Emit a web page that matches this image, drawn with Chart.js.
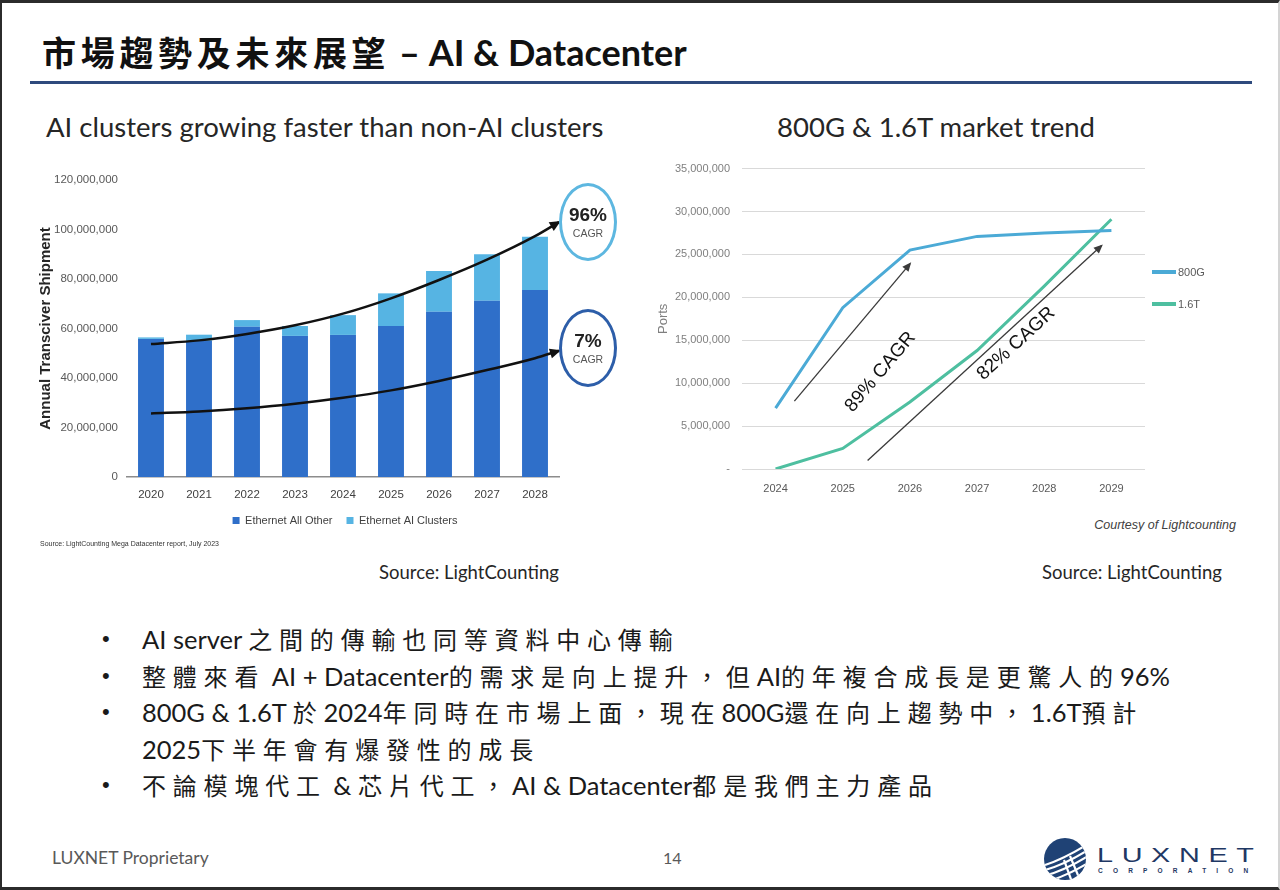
<!DOCTYPE html>
<html>
<head>
<meta charset="utf-8">
<script src="https://cdn.jsdelivr.net/npm/chart.js@4.4.1/dist/chart.umd.min.js"></script>
<style>
  html, body { margin: 0; padding: 0; background: #fff; }
  #slide { position: relative; width: 1280px; height: 890px; overflow: hidden; background: #fff;
           font-family: Lato, "Noto Sans CJK TC", sans-serif; color: #1a1a1a; }
  #frame { position: absolute; left: 0; top: 0; width: 1280px; height: 890px; box-sizing: border-box; pointer-events: none;
           border-top: 3px solid #2b2b2b; border-left: 2px solid #2b2b2b; border-bottom: 3px solid #2b2b2b; border-right: 2px solid #d4d4d4; }
  .abs { position: absolute; white-space: nowrap; }
  .narrow { font-family: "Liberation Sans", Arial, sans-serif; }
  #title { left: 42px; top: 27px; line-height: 50px; font-weight: bold; color: #111; }
  #title .cjk { font-size: 34px; letter-spacing: 4.7px; font-family: "Noto Sans CJK TC", sans-serif; }
  #title .lat { font-size: 36px; }
  #rule { left: 30px; top: 81px; width: 1222px; height: 3px; background: #2e4a7d; }
  .subtitle { font-size: 27.5px; line-height: 34px; color: #262626; }
  .source { font-size: 18.5px; line-height: 24px; color: #262626; text-align: center; }
  .ellipse { box-sizing: border-box; width: 58px; height: 78px; border: 3px solid; border-radius: 50%; text-align: center; }
  .ellipse b { display: block; font-family: "Liberation Sans", Arial, sans-serif; font-size: 19px; color: #222; margin-top: 18px; line-height: 22px; }
  .ellipse span { display: block; font-family: "Liberation Sans", Arial, sans-serif; font-size: 10.5px; color: #555; line-height: 14px; }
  #bullets { left: 100px; top: 621px; }
  #bullets div { position: relative; height: 36.6px; line-height: 36.6px; padding-left: 42px; font-size: 25.5px; color: #1a1a1a; }
  #bullets div.b::before { content: "•"; position: absolute; left: 2px; top: 0; font-family: "Liberation Sans", sans-serif; font-size: 22px; }
  #bullets .cjk { font-family: "Noto Sans CJK TC", sans-serif; letter-spacing: 6.8px; font-size: 24px; }
  .footer { font-size: 17.5px; line-height: 22px; color: #595959; }
  #legend2 div { position: absolute; white-space: nowrap; font-size: 11px; line-height: 14px; color: #595959; }
  #legend2 i { display: inline-block; width: 24px; height: 4px; vertical-align: middle; margin-right: 2px; margin-top: -2px; }
</style>
</head>
<body>
<div id="slide">
  <div id="title" class="abs"><span class="cjk">市場趨勢及未來展望</span><span class="lat"> – AI &amp; Datacenter</span></div>
  <div id="rule" class="abs"></div>

  <div class="abs subtitle" style="left:46px; top:110px;">AI clusters growing faster than non-AI clusters</div>
  <div class="abs subtitle" style="left:736px; top:110px; width:400px; text-align:center;">800G &amp; 1.6T market trend</div>

  <canvas id="clusters" class="abs" width="630" height="400" style="left:30px; top:150px;"></canvas>
  <canvas id="market" class="abs" width="600" height="350" style="left:655px; top:150px;"></canvas>

  <div class="abs ellipse" style="left:559px; top:183px; border-color:#5db7e0;"><b>96%</b><span>CAGR</span></div>
  <div class="abs ellipse" style="left:559px; top:309px; border-color:#2d5ea9;"><b>7%</b><span>CAGR</span></div>

  <div id="legend2" class="abs narrow" style="left:1152px; top:0;"></div>

  <div class="abs narrow" style="left:40px; top:539px; font-size:7px; line-height:10px; color:#333;">Source: LightCounting Mega Datacenter report, July 2023</div>
  <div class="abs narrow" style="left:1036px; top:516px; width:200px; text-align:right; font-style:italic; font-size:12.5px; line-height:18px; color:#404040;">Courtesy of Lightcounting</div>

  <div class="abs source" style="left:369px; top:560px; width:200px;">Source: LightCounting</div>
  <div class="abs source" style="left:1032px; top:560px; width:200px;">Source: LightCounting</div>

  <div id="bullets" class="abs"></div>

  <div class="abs footer" style="left:52px; top:847px;">LUXNET Proprietary</div>
  <div class="abs footer" style="left:663px; top:847px; font-size:16px;">14</div>

  <svg class="abs" style="left:1042px; top:836px;" width="46" height="46" viewBox="0 0 46 46">
    <defs><clipPath id="lc"><circle cx="23" cy="23" r="21"/></clipPath></defs>
    <circle cx="23" cy="23" r="21" fill="#1f4275"/>
    <g clip-path="url(#lc)" stroke="#fff" stroke-width="2.2" fill="none">
      <path d="M0 30 Q20 24 46 8"/>
      <path d="M0 35 Q22 29 46 14"/>
      <path d="M2 40 Q24 34 46 20"/>
      <path d="M8 45 Q28 38 46 27"/>
      <path d="M22 24 L30 46"/>
      <path d="M28 20 L38 44"/>
    </g>
  </svg>
  <div class="abs" style="left:1097px; top:845px; font-family:'Liberation Sans', Arial, sans-serif; font-size:20px; line-height:20px; letter-spacing:6px; color:#1f3864; transform:scaleX(1.44); transform-origin:left top;">LUXNET</div>
  <div class="abs" style="left:1098px; top:867px; font-family:'Liberation Sans', Arial, sans-serif; font-size:6.5px; font-weight:bold; line-height:8px; letter-spacing:10.2px; color:#1f3864;">CORPORATION</div>

  <div id="frame"></div>
</div>

<script>
// ---- left chart: transceiver shipments by year ----
const years = ['2020', '2021', '2022', '2023', '2024', '2025', '2026', '2027', '2028'];
const ethernetAllOther = [55800000, 55000000, 60700000, 57000000, 57400000, 61000000, 66800000, 71200000, 75600000];
const ethernetAiClusters = [600000, 2500000, 2700000, 4000000, 8000000, 13200000, 16400000, 18800000, 21500000];

// hand-drawn growth arrows (x in category units, 8.5 = right edge of plot)
const trendX = [0, 1, 2, 3, 4, 5, 6, 7, 8, 8.5];
const aiTrend = [53700000, 55200000, 57800000, 61300000, 66000000, 72200000, 79600000, 87800000, 97300000, 103000000];
const nonAiTrend = [25700000, 26500000, 27800000, 29600000, 32000000, 35000000, 38800000, 43200000, 48000000, 51000000];

// ---- right chart: 800G & 1.6T ports ----
const marketYears = ['2024', '2025', '2026', '2027', '2028', '2029'];
const ports800G = [7100000, 18800000, 25500000, 27100000, 27500000, 27800000];
const ports1_6T = [0, 2400000, 7800000, 13800000, 21300000, 29100000];

// CAGR arrows on the right chart, in (category index, ports)
const cagrNotes = [
  { text: '89% CAGR', from: [0.28, 7900000], to: [2.0, 23900000], at: [1.56, 11300000] },
  { text: '82% CAGR', from: [1.37, 1000000], to: [4.85, 26000000], at: [3.58, 14600000] },
];

const bulletLines = [
  { bullet: true, text: 'AI server 之間的傳輸也同等資料中心傳輸' },
  { bullet: true, text: '整體來看 AI + Datacenter的需求是向上提升，但AI的年複合成長是更驚人的96%' },
  { bullet: true, text: '800G & 1.6T 於2024年同時在市場上面，現在800G還在向上趨勢中，1.6T預計' },
  { bullet: false, text: '2025下半年會有爆發性的成長' },
  { bullet: true, text: '不論模塊代工 & 芯片代工，AI & Datacenter都是我們主力產品' },
];

const DARK = '#2f6fc9';
const LIGHT = '#56b4e3';
const C800 = '#4baad6';
const C16T = '#4ebfa0';

Chart.defaults.font.family = '"Liberation Sans", Arial, sans-serif';

function drawHead(ctx, x0, y0, x1, y1, len, half, color) {
  const ang = Math.atan2(y1 - y0, x1 - x0);
  ctx.save();
  ctx.translate(x1 + Math.cos(ang) * 2, y1 + Math.sin(ang) * 2);
  ctx.rotate(ang);
  ctx.beginPath();
  ctx.moveTo(0, 0);
  ctx.lineTo(-len, -half);
  ctx.lineTo(-len, half);
  ctx.closePath();
  ctx.fillStyle = color;
  ctx.fill();
  ctx.restore();
}

const arrowHeads = {
  id: 'arrowHeads',
  afterDatasetsDraw(chart) {
    chart.data.datasets.forEach((ds, i) => {
      if (!ds.arrow) return;
      const pts = chart.getDatasetMeta(i).data;
      const a = pts[pts.length - 2], b = pts[pts.length - 1];
      drawHead(chart.ctx, a.x, a.y, b.x, b.y, 11, 5, ds.borderColor);
    });
  }
};

const cagrArrows = {
  id: 'cagrArrows',
  afterDatasetsDraw(chart) {
    const { ctx, scales: { x, y } } = chart;
    cagrNotes.forEach(n => {
      const x0 = x.getPixelForValue(n.from[0]), y0 = y.getPixelForValue(n.from[1]);
      const x1 = x.getPixelForValue(n.to[0]), y1 = y.getPixelForValue(n.to[1]);
      ctx.save();
      ctx.strokeStyle = '#3a3a3a';
      ctx.lineWidth = 1.3;
      ctx.beginPath();
      ctx.moveTo(x0, y0);
      ctx.lineTo(x1, y1);
      ctx.stroke();
      ctx.restore();
      drawHead(ctx, x0, y0, x1, y1, 9, 4, '#3a3a3a');
      const ang = Math.atan2(y1 - y0, x1 - x0);
      ctx.save();
      ctx.translate(x.getPixelForValue(n.at[0]), y.getPixelForValue(n.at[1]));
      ctx.rotate(ang);
      ctx.font = '19px "Liberation Sans", Arial, sans-serif';
      ctx.fillStyle = '#111';
      ctx.textAlign = 'center';
      ctx.textBaseline = 'middle';
      ctx.fillText(n.text, 0, 0);
      ctx.restore();
    });
  }
};

new Chart(document.getElementById('clusters'), {
  type: 'bar',
  data: {
    labels: years,
    datasets: [
      { label: 'Ethernet All Other', data: ethernetAllOther, backgroundColor: DARK, order: 1,
        grouped: false, barPercentage: 0.6, categoryPercentage: 0.9 },
      { label: 'Ethernet AI Clusters', data: ethernetAiClusters, backgroundColor: LIGHT, order: 1,
        grouped: false, barPercentage: 0.6, categoryPercentage: 0.9 },
      { type: 'line', label: 'ai trend', data: trendX.map((x, i) => ({ x, y: aiTrend[i] })),
        xAxisID: 'xt', yAxisID: 'yt', borderColor: '#111', borderWidth: 2.5, pointRadius: 0,
        cubicInterpolationMode: 'monotone', clip: false, arrow: true, order: 0 },
      { type: 'line', label: 'non-ai trend', data: trendX.map((x, i) => ({ x, y: nonAiTrend[i] })),
        xAxisID: 'xt', yAxisID: 'yt', borderColor: '#111', borderWidth: 2.5, pointRadius: 0,
        cubicInterpolationMode: 'monotone', clip: false, arrow: true, order: 0 },
    ]
  },
  options: {
    responsive: false,
    animation: false,
    layout: { padding: { top: 30, right: 0, left: 0, bottom: 14 } },
    plugins: {
      legend: {
        position: 'bottom',
        labels: {
          filter: item => item.datasetIndex < 2,
          boxWidth: 7, boxHeight: 7, padding: 14, color: '#404040', font: { size: 11 }
        }
      },
      tooltip: { enabled: false }
    },
    scales: {
      x: {
        stacked: true,
        grid: { display: false, drawTicks: false },
        border: { color: '#8c8c8c', width: 1.5 },
        ticks: { color: '#404040', font: { size: 11.5 }, padding: 11 },
        afterFit: s => { s.height = 59 - s.chart.legend.height; }
      },
      y: {
        stacked: true, min: 0, max: 120000000,
        grid: { display: false, drawTicks: false },
        border: { display: false },
        ticks: { stepSize: 20000000, color: '#595959', padding: 9, font: { size: 11.5 },
                 callback: v => v.toLocaleString('en-US') },
        title: { display: true, text: 'Annual Transciver Shipment', color: '#262626',
                 font: { size: 15, weight: 'bold' }, padding: { top: 7, bottom: 0 } },
        afterFit: s => { s.width = 97; }
      },
      xt: { type: 'linear', display: false, offset: false, bounds: 'data', min: -0.5, max: 8.5 },
      yt: {
        type: 'linear', position: 'right', min: 0, max: 120000000,
        grid: { display: false, drawTicks: false }, border: { display: false }, ticks: { display: false },
        afterFit: s => { s.width = 101; }
      }
    }
  },
  plugins: [arrowHeads]
});

const market = new Chart(document.getElementById('market'), {
  type: 'line',
  data: {
    labels: marketYears,
    datasets: [
      { label: '800G', data: ports800G, borderColor: C800, borderWidth: 3, pointRadius: 0, tension: 0 },
      { label: '1.6T', data: ports1_6T, borderColor: C16T, borderWidth: 3, pointRadius: 0, tension: 0 },
    ]
  },
  options: {
    responsive: false,
    animation: false,
    layout: { padding: { top: 15, right: 110, left: 0, bottom: 0 } },
    plugins: { legend: { display: false }, tooltip: { enabled: false } },
    scales: {
      x: {
        offset: true,
        grid: { display: false, drawTicks: false },
        border: { display: false },
        ticks: { color: '#595959', font: { size: 11 }, padding: 13 },
        afterFit: s => { s.height = 31; }
      },
      y: {
        min: 0, max: 35000000,
        grid: { color: '#d9d9d9', drawTicks: false },
        border: { display: false },
        ticks: { stepSize: 5000000, color: '#7f7f7f', padding: 12, font: { size: 11 },
                 callback: v => v === 0 ? '-' : v.toLocaleString('en-US') },
        title: { display: true, text: 'Ports', color: '#7f7f7f', font: { size: 13 }, padding: { top: 1, bottom: 0 } },
        afterFit: s => { s.width = 87; }
      }
    }
  },
  plugins: [cagrArrows]
});

// right-hand legend, built from the datasets
const legend2 = document.getElementById('legend2');
market.data.datasets.forEach((ds, i) => {
  const d = document.createElement('div');
  d.style.top = (265 + i * 32) + 'px';
  d.innerHTML = '<i style="background:' + ds.borderColor + '"></i>' + ds.label;
  legend2.appendChild(d);
});

// bullet text, with wider tracking on the CJK runs
const bullets = document.getElementById('bullets');
bulletLines.forEach(line => {
  const d = document.createElement('div');
  if (line.bullet) d.className = 'b';
  d.innerHTML = line.text.replace(/&/g, '&amp;')
    .replace(/([\u3000-\u9fff\uff00-\uffef]+)/g, '<span class="cjk">$1</span>');
  bullets.appendChild(d);
});
</script>
</body>
</html>
